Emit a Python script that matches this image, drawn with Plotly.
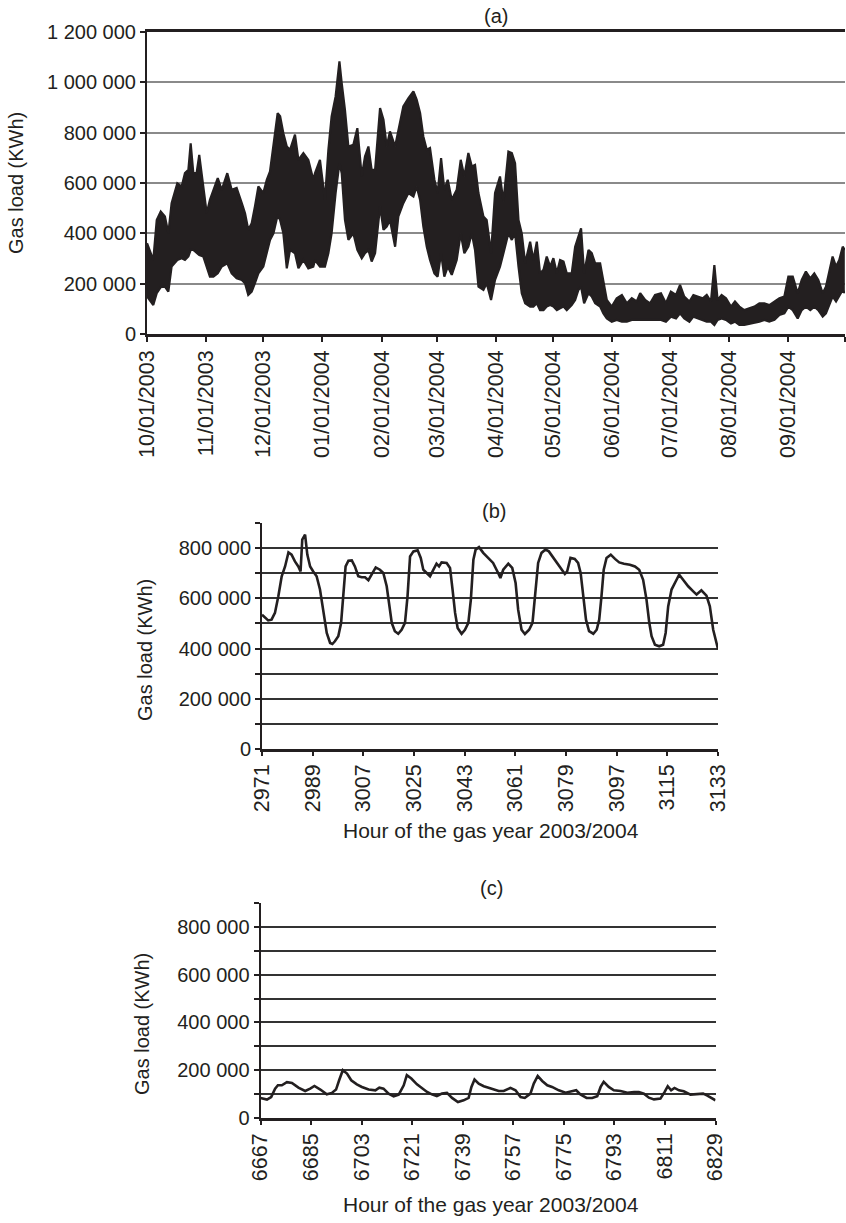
import plotly.graph_objects as go
import pandas as pd

# ---------------- data (values in thousands of kWh) ----------------
# (a) whole gas year: upper / lower envelope of the hourly load
a_days = [0.0, 3.3, 5.1, 7.2, 9.4, 11.2, 12.9, 15.9, 18.2, 19.9, 21.7, 22.9, 24.3, 26.0, 27.4, 29.5,
          31.3, 33.0, 34.8, 37.1, 39.2, 42.1, 44.4, 47.0, 49.7, 51.4, 53.1, 54.9, 56.6, 58.4, 61.0,
          62.8, 64.5, 66.3, 68.5, 69.8, 71.5, 73.3, 75.0, 77.6, 79.4, 82.0, 84.6, 87.2,
          88.1, 90.7, 93.3, 95.1, 96.8, 98.9, 100.9, 102.1, 103.8, 105.6, 108.2, 110.3, 112.6,
          114.3, 116.1, 117.8, 119.6, 122.2, 124.0, 125.7, 127.4, 130.1, 131.8, 134.4, 137.1,
          139.7, 141.4, 143.2, 144.9, 146.7, 148.4, 150.7, 152.4, 154.2, 155.9, 157.7, 159.8,
          162.4, 164.5, 166.4, 168.5, 170.3, 172.0, 173.8, 176.4, 178.1, 180.4, 182.5,
          185.1, 186.9, 189.5, 191.3, 193.0, 194.8, 196.5, 198.3, 200.9, 202.6, 204.4, 206.1,
          207.9, 209.6, 211.4, 213.1, 214.9, 216.6, 218.4, 220.1, 222.7, 224.5, 226.2, 227.6,
          229.2, 231.5, 233.2, 235.0, 237.6, 239.3, 241.1, 243.7, 246.3, 249.0, 251.6, 254.2,
          256.8, 258.6, 261.2, 263.8, 266.4,
          269.5, 272.1, 274.7, 277.4, 279.5, 281.7, 284.4, 286.5, 288.7, 291.4, 293.5, 295.7,
          297.5, 299.2, 301.3, 303.6, 306.2, 308.3, 310.6, 313.2, 315.8, 318.5, 321.1, 323.7,
          326.3, 329.0, 331.6, 334.2, 336.3, 338.6, 341.2, 343.3, 345.5, 347.8, 349.9, 352.0,
          354.3, 356.0, 357.8, 359.5, 361.3, 363.0, 364.8, 365.9]
a_upper_k = [361, 294, 453, 487, 467, 400, 520, 599, 586, 639, 652, 758, 639, 639, 712, 586,
             480, 533, 573, 619, 573, 639, 573, 580, 520, 480, 414, 440, 507, 586, 560,
             613, 646, 752, 878, 865, 798, 745, 732, 792, 692, 719, 692, 613,
             639, 692, 533, 732, 865, 944, 1083, 997, 891, 745, 752, 818, 626,
             705, 745, 652, 652, 898, 851, 745, 805, 745, 811, 904, 937,
             964, 931, 878, 785, 732, 739, 613, 560, 699, 573, 613, 533,
             573, 692, 626, 719, 666, 672, 560, 467, 453, 321, 560,
             626, 526, 725, 719, 679, 453, 400, 281, 367, 294, 367, 241,
             255, 308, 268, 301, 241, 294, 288, 241, 241, 347, 387, 420,
             241, 334, 321, 281, 281, 215, 135, 109, 142, 155, 122, 142,
             129, 162, 135, 122, 155,
             162, 122, 168, 155, 195, 149, 129, 155, 149, 142, 155, 129,
             274, 135, 155, 142, 109, 129, 109, 95, 102, 109, 122, 122,
             115, 129, 142, 149, 228, 228, 162, 215, 248, 221, 241, 215,
             162, 188, 248, 308, 268, 294, 347, 334]
a_lower_k = [149, 115, 162, 186, 188, 168, 268, 294, 301, 294, 308, 334, 334, 321, 314, 308,
             268, 228, 228, 241, 268, 281, 241, 221, 215, 202, 155, 168, 202, 241, 268,
             321, 374, 400, 473, 453, 400, 261, 334, 321, 261, 294, 261, 268,
             294, 268, 268, 321, 400, 560, 679, 639, 453, 374, 400, 334, 301,
             321, 334, 288, 321, 507, 414, 427, 453, 347, 467, 520, 560,
             546, 586, 533, 427, 347, 294, 241, 228, 321, 228, 268, 235,
             294, 400, 321, 347, 400, 334, 188, 175, 202, 135, 215,
             268, 321, 400, 374, 400, 268, 162, 122, 109, 109, 122, 95,
             95, 109, 115, 109, 95, 102, 109, 95, 115, 135, 175, 188,
             122, 162, 149, 122, 109, 82, 62, 49, 56, 49, 49, 56,
             56, 56, 56, 56, 56,
             56, 49, 69, 62, 82, 62, 49, 69, 62, 56, 49, 49,
             36, 56, 62, 56, 42, 49, 36, 36, 40, 42, 49, 56,
             49, 56, 76, 82, 109, 95, 62, 95, 109, 95, 109, 95,
             69, 82, 115, 149, 129, 149, 175, 162]
a_start = "2003-10-01"
a_month_ticks = ["2003-10-01", "2003-11-01", "2003-12-01", "2004-01-01", "2004-02-01",
                 "2004-03-01", "2004-04-01", "2004-05-01", "2004-06-01", "2004-07-01",
                 "2004-08-01", "2004-09-01", "2004-10-01"]
a_month_labels = ["10/01/2003", "11/01/2003", "12/01/2003", "01/01/2004", "02/01/2004",
                  "03/01/2004", "04/01/2004", "05/01/2004", "06/01/2004", "07/01/2004",
                  "08/01/2004", "09/01/2004", ""]

# (b) winter week, hours 2971-3133
b_hours = [2971.0, 2973.2, 2974.4, 2975.6, 2976.8, 2978.0, 2979.2, 2980.4, 2981.5, 2982.7, 2983.9,
           2984.7, 2985.3, 2986.3, 2987.1, 2988.1, 2989.2, 2990.4, 2991.6, 2992.8, 2994.0, 2995.2,
           2996.0, 2996.9, 2998.1, 2999.1, 2999.9, 3000.7, 3001.7, 3002.9, 3004.0, 3005.2, 3006.4,
           3007.6, 3008.8, 3010.0, 3011.4, 3012.9, 3014.1, 3015.3, 3016.1, 3017.1, 3018.2, 3019.4,
           3020.6, 3021.8, 3022.7, 3023.6, 3024.8, 3026.3, 3027.4, 3028.3, 3029.5, 3030.7, 3031.9,
           3033.0, 3033.9, 3034.8, 3036.6, 3037.8, 3038.7, 3039.6, 3040.5, 3041.9, 3043.1, 3044.3,
           3045.2, 3046.1, 3046.9, 3048.1, 3049.6, 3051.4, 3053.1, 3054.9, 3055.7, 3056.7, 3058.5,
           3059.9, 3061.1, 3062.0, 3063.2, 3064.4, 3065.9, 3067.1, 3067.9, 3069.1, 3070.3, 3071.7,
           3072.9, 3074.5, 3076.8, 3078.6, 3079.4, 3080.6, 3082.1, 3083.3, 3084.2, 3085.1, 3086.1,
           3087.2, 3088.7, 3089.9, 3090.8, 3091.6, 3092.4, 3093.4, 3094.9, 3096.4, 3097.9, 3099.6,
           3101.7, 3103.5, 3105.0, 3106.4, 3107.6, 3108.6, 3109.4, 3110.6, 3112.1, 3113.5, 3114.4,
           3115.3, 3116.5, 3118.0, 3119.2, 3120.6, 3122.4, 3124.2, 3125.4, 3127.1, 3128.9, 3130.1,
           3131.3, 3133.0]
b_load_k = [535, 512, 515, 542, 608, 688, 727, 783, 774, 747, 727,
            707, 834, 854, 774, 727, 707, 688, 635, 555, 462, 422,
            418, 429, 449, 502, 608, 727, 750, 751, 727, 688, 684,
            684, 672, 694, 723, 714, 701, 648, 581, 502, 469, 459,
            475, 502, 608, 767, 787, 791, 761, 714, 701, 688, 714,
            738, 727, 743, 741, 721, 635, 542, 482, 459, 475, 502,
            595, 754, 794, 804, 781, 761, 741, 701, 681, 714, 738,
            721, 661, 555, 475, 458, 475, 502, 595, 741, 781, 794,
            787, 761, 721, 697, 707, 761, 757, 741, 701, 608, 515,
            469, 459, 475, 515, 608, 714, 761, 774, 757, 743, 738,
            734, 727, 714, 674, 595, 502, 449, 415, 409, 415, 462,
            568, 635, 668, 694, 674, 648, 628, 615, 632, 611, 568,
            475, 398]

# (c) summer week, hours 6667-6829
c_hours = [6667.0, 6669.3, 6670.8, 6672.2, 6673.2, 6674.6, 6676.4, 6678.2, 6680.5, 6682.9, 6684.7,
           6686.2, 6688.3, 6690.6, 6692.4, 6693.9, 6695.0, 6696.3, 6697.8, 6699.3, 6701.3, 6703.1,
           6705.5, 6707.9, 6709.3, 6710.8, 6712.6, 6714.4, 6716.2, 6718.0, 6719.1, 6720.7, 6722.7,
           6724.5, 6726.3, 6728.0, 6729.8, 6731.6, 6733.4, 6735.2, 6737.3, 6739.3, 6741.1, 6742.1,
           6743.2, 6744.7, 6746.5, 6748.2, 6749.5, 6751.8, 6753.6, 6756.0, 6757.8, 6759.6, 6761.1,
           6763.1, 6764.3, 6765.7, 6767.3, 6769.1, 6770.8, 6773.2, 6775.6, 6777.4, 6779.4, 6780.9,
           6783.1, 6785.1, 6786.9, 6788.1, 6789.2, 6791.0, 6792.8, 6795.2, 6797.6, 6800.0, 6801.7,
           6803.5, 6805.3, 6807.1, 6809.4, 6810.9, 6812.0, 6813.2, 6814.4, 6816.0, 6817.7, 6820.1,
           6822.5, 6824.6, 6826.1, 6827.8, 6829.0]
c_load_k = [84, 77, 88, 123, 137, 137, 150, 147, 127, 113, 123,
            134, 119, 99, 105, 119, 158, 200, 186, 158, 141, 130,
            119, 116, 127, 123, 102, 91, 98, 137, 179, 165, 141,
            123, 109, 99, 92, 102, 105, 84, 67, 74, 84, 130,
            161, 144, 133, 127, 123, 113, 113, 126, 116, 88, 84,
            102, 144, 176, 155, 137, 130, 116, 106, 112, 116, 99,
            84, 84, 91, 130, 151, 130, 116, 113, 106, 109, 109,
            102, 85, 78, 81, 109, 133, 116, 126, 116, 112, 98,
            99, 102, 94, 84, 74]

panel_titles = ["(a)", "(b)", "(c)"]
y_title = "Gas load (KWh)"
x_title = "Hour of the gas year 2003/2004"

# ---------------- figure ----------------
W, H = 846, 1223
INK = "#231f20"
FONT = "Liberation Sans, Arial, sans-serif"

def px_x(p):
    return p / W

def px_y(p):
    return 1 - p / H

a_dates = pd.Timestamp(a_start) + pd.to_timedelta(a_days, unit="D")

fig = go.Figure()
fig.add_trace(go.Scatter(x=a_dates, y=[v * 1000 for v in a_lower_k], mode="lines",
                         line=dict(color=INK, width=2.2), xaxis="x", yaxis="y",
                         showlegend=False, hoverinfo="skip"))
fig.add_trace(go.Scatter(x=a_dates, y=[v * 1000 for v in a_upper_k], mode="lines",
                         line=dict(color=INK, width=2.2), fill="tonexty", fillcolor=INK,
                         xaxis="x", yaxis="y", showlegend=False))
fig.add_trace(go.Scatter(x=b_hours, y=[v * 1000 for v in b_load_k], mode="lines",
                         line=dict(color=INK, width=2.6), xaxis="x2", yaxis="y2",
                         showlegend=False))
fig.add_trace(go.Scatter(x=c_hours, y=[v * 1000 for v in c_load_k], mode="lines",
                         line=dict(color=INK, width=2.6), xaxis="x3", yaxis="y3",
                         showlegend=False))

ytickfont = dict(family=FONT, size=20, color=INK)
xtickfont = dict(family=FONT, size=21.5, color=INK)

common_y = dict(showline=True, linecolor=INK, linewidth=2, ticks="outside", ticklen=5,
                tickcolor=INK, tickwidth=1.5, zeroline=False, tickfont=ytickfont,
                tickformat=",d", fixedrange=True, automargin=False)
common_x = dict(ticks="outside", tickcolor=INK, tickwidth=1.5, showline=True, linecolor=INK,
                linewidth=2.5, showgrid=False, zeroline=False, tickfont=xtickfont,
                tickangle=-90, automargin=False)

fig.update_layout(
    width=W, height=H, autosize=False,
    margin=dict(l=0, r=0, t=0, b=0, autoexpand=False),
    paper_bgcolor="white", plot_bgcolor="white",
    separators=". ",
    font=dict(family=FONT, size=20, color=INK),
    xaxis=dict(domain=[px_x(147), px_x(845)], anchor="y", type="date",
               range=[a_month_ticks[0], a_month_ticks[-1]],
               tickmode="array", tickvals=a_month_ticks, ticktext=a_month_labels,
               ticklen=5, mirror=True, **common_x),
    yaxis=dict(domain=[px_y(334), px_y(32)], anchor="x", range=[0, 1200000],
               dtick=200000, showgrid=True, gridcolor="#8a8a8a", gridwidth=1.5,
               **common_y),
    xaxis2=dict(domain=[px_x(262), px_x(718)], anchor="y2", range=[2971, 3133],
                tickmode="linear", tick0=2971, dtick=18, ticklen=4, tickformat="d",
                **common_x),
    yaxis2=dict(domain=[px_y(749), px_y(523)], anchor="x2", range=[0, 900000],
                dtick=200000, showgrid=True, gridcolor="#333333", gridwidth=1.6,
                minor=dict(dtick=100000, tick0=0, showgrid=True, gridcolor="#333333",
                           gridwidth=1.6, ticks="outside", ticklen=5, tickcolor=INK),
                **common_y),
    xaxis3=dict(domain=[px_x(260.5), px_x(715.5)], anchor="y3", range=[6667, 6829],
                tickmode="linear", tick0=6667, dtick=18, ticklen=4, tickformat="d",
                **common_x),
    yaxis3=dict(domain=[px_y(1118), px_y(903)], anchor="x3", range=[0, 900000],
                dtick=200000, showgrid=True, gridcolor="#333333", gridwidth=1.6,
                minor=dict(dtick=100000, tick0=0, showgrid=True, gridcolor="#333333",
                           gridwidth=1.6, ticks="outside", ticklen=5, tickcolor=INK),
                **common_y),
)

ann_font = dict(family=FONT, size=20, color=INK)
xt_font = dict(family=FONT, size=21, color=INK)
annotations = [
    dict(text=panel_titles[0], x=px_x(496), y=px_y(16), font=ann_font),
    dict(text=panel_titles[1], x=px_x(494), y=px_y(511), font=ann_font),
    dict(text=panel_titles[2], x=px_x(491), y=px_y(888), font=ann_font),
    dict(text=y_title, x=px_x(16), y=px_y(183), textangle=-90, font=ann_font),
    dict(text=y_title, x=px_x(145), y=px_y(650), textangle=-90, font=ann_font),
    dict(text=y_title, x=px_x(142), y=px_y(1024), textangle=-90, font=ann_font),
    dict(text=x_title, x=px_x(491), y=px_y(830), font=xt_font),
    dict(text=x_title, x=px_x(491), y=px_y(1204), font=xt_font),
]
for a in annotations:
    a.update(xref="paper", yref="paper", xanchor="center", yanchor="middle",
             showarrow=False)
fig.update_layout(annotations=annotations)

fig.write_html("out.html", post_script="document.body.style.margin='0';")
